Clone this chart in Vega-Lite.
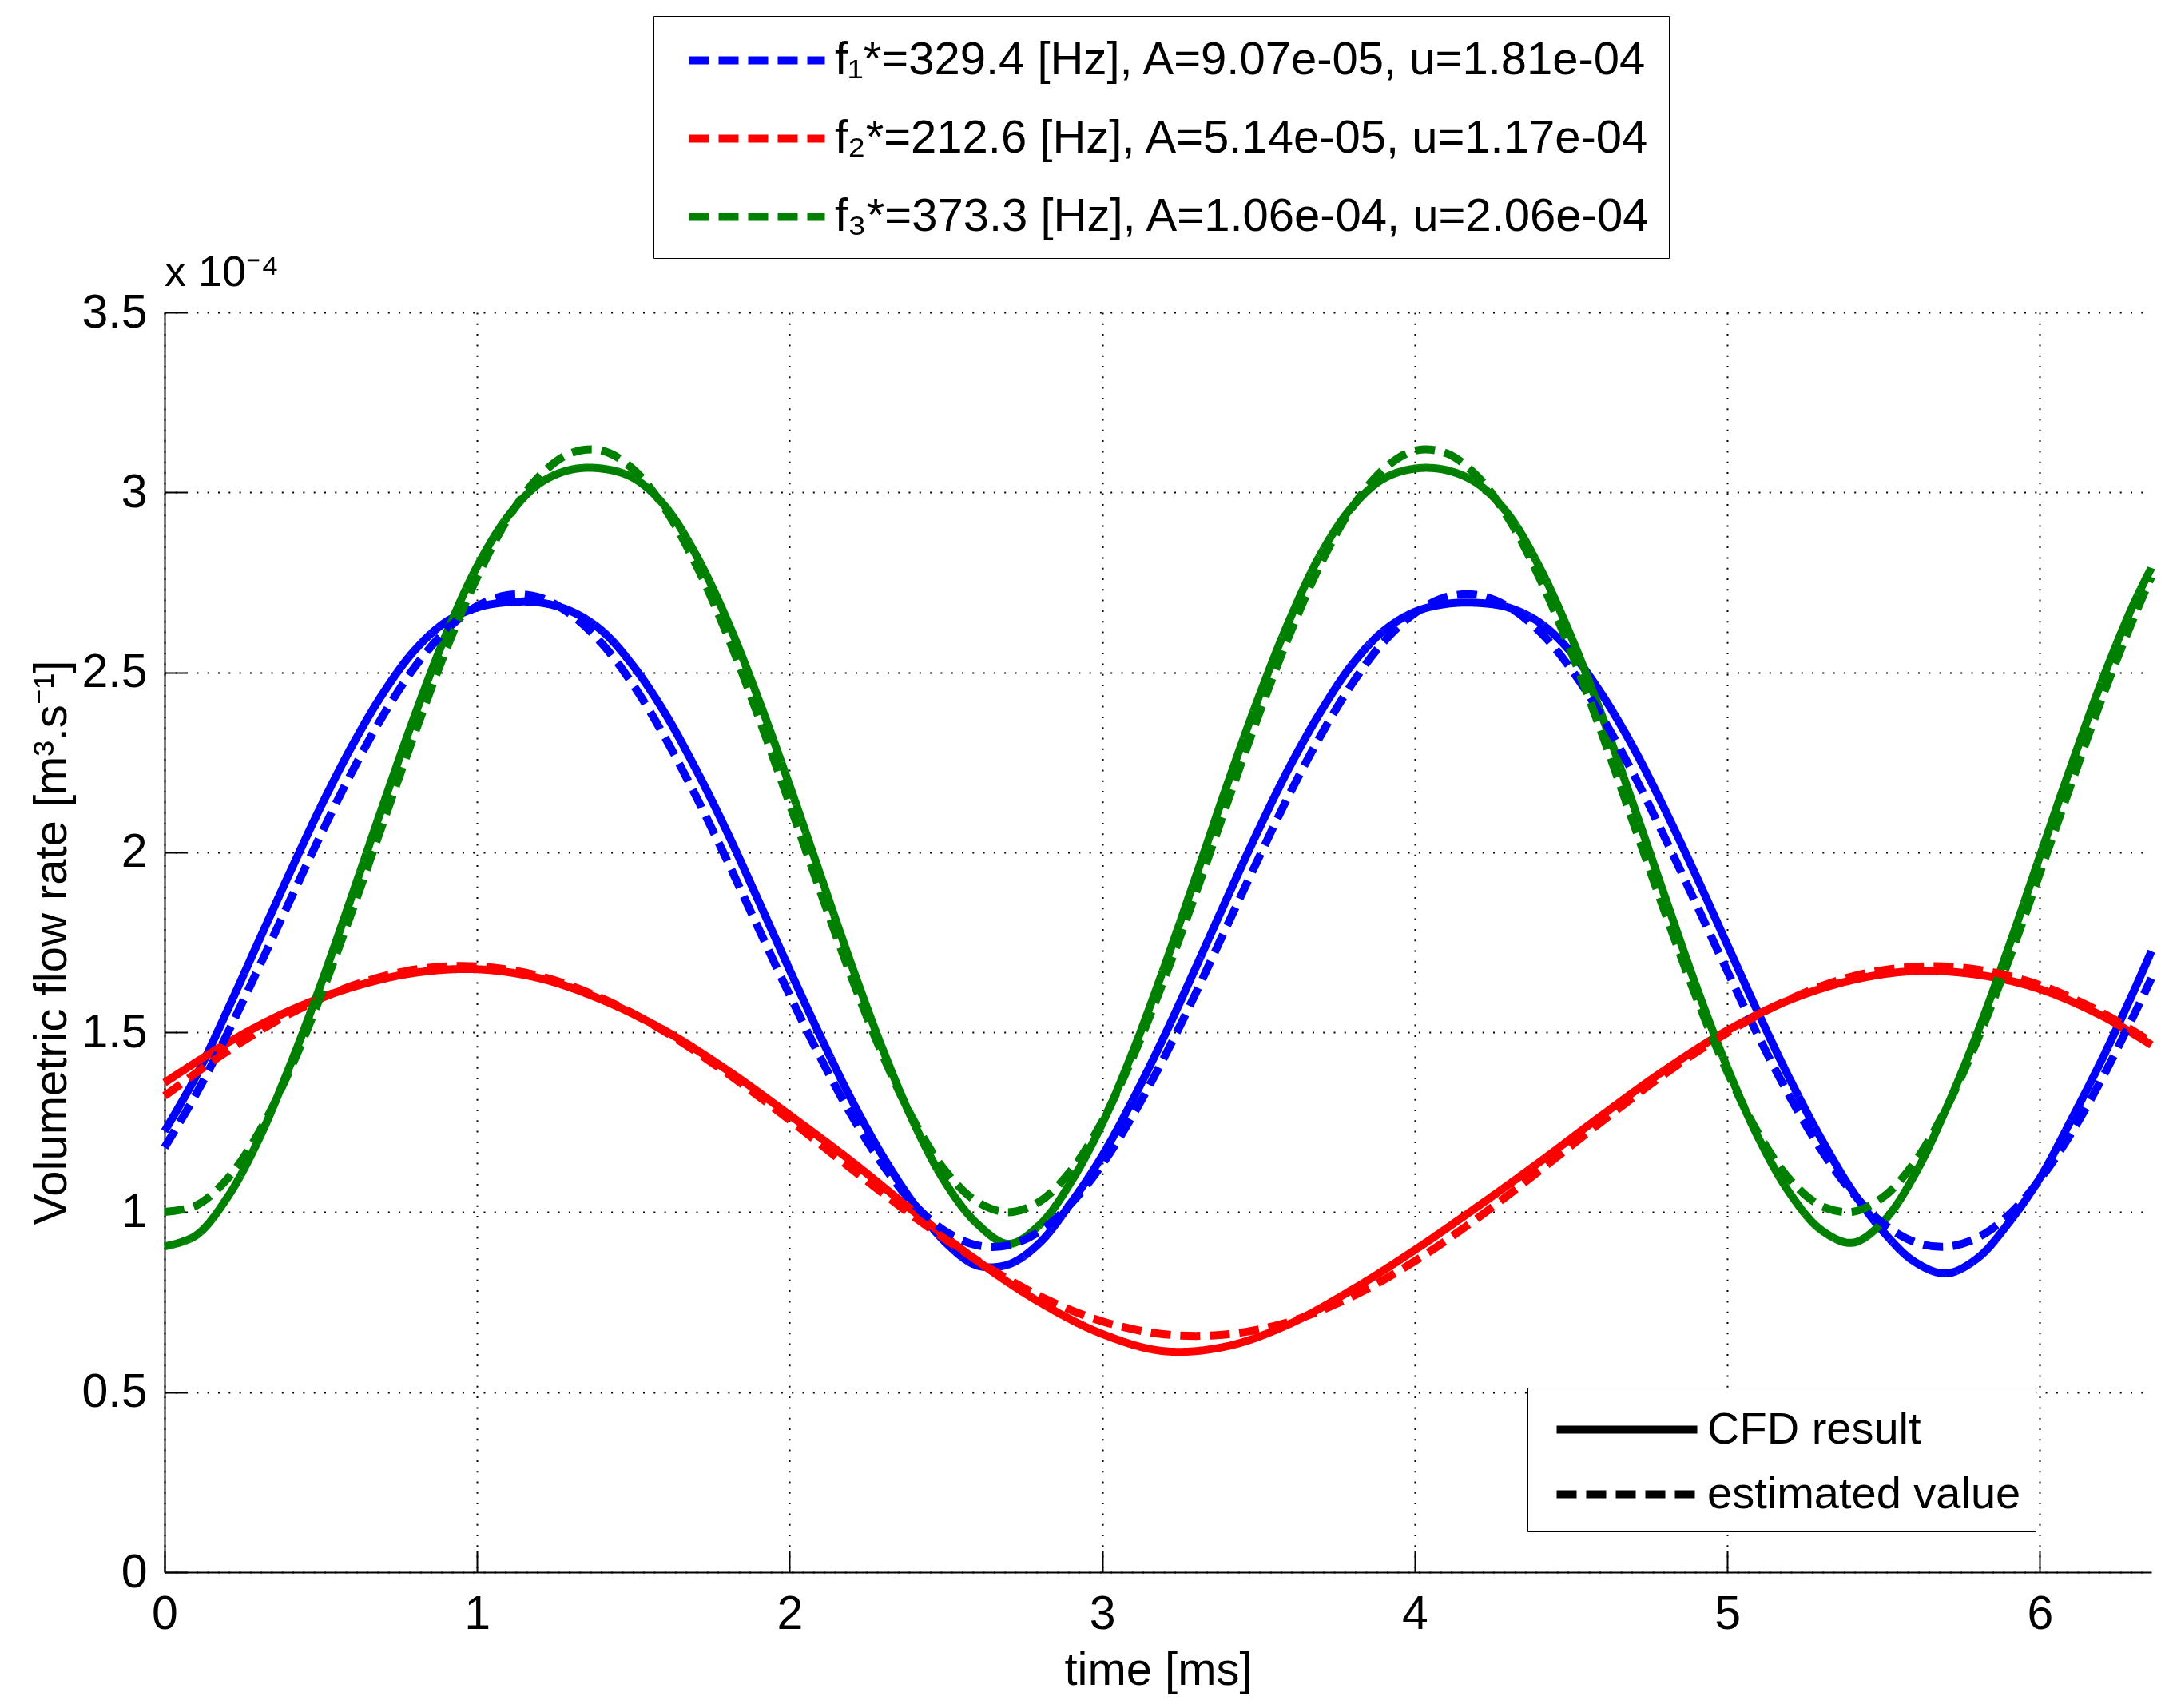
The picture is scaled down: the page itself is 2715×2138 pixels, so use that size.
{
  "$schema": "https://vega.github.io/schema/vega-lite/v6.json",
  "width": 2487,
  "height": 1577,
  "autosize": {"type": "none"},
  "padding": {"left": 206, "top": 391, "right": 22, "bottom": 170},
  "background": "white",
  "title": {
    "text": "x 10⁻⁴",
    "anchor": "start",
    "frame": "group",
    "orient": "top",
    "offset": -392,
    "baseline": "alphabetic",
    "font": "Liberation Sans",
    "fontSize": 54,
    "fontWeight": "normal",
    "color": "black"
  },
  "config": {
    "view": {"stroke": null},
    "axis": {
      "domainColor": "black",
      "domainWidth": 2,
      "tickColor": "black",
      "tickWidth": 2,
      "tickSize": -27,
      "labelFlush": false,
      "labelFont": "Liberation Sans",
      "labelFontSize": 59,
      "labelColor": "black",
      "titleFont": "Liberation Sans",
      "titleFontSize": 58,
      "titleFontWeight": "normal",
      "titleColor": "black",
      "gridColor": "black",
      "gridDash": [2, 11.3],
      "gridWidth": 2,
      "gridOpacity": 1
    },
    "legend": {
      "labelFont": "Liberation Sans",
      "labelColor": "black",
      "labelLimit": 2000,
      "strokeColor": "black",
      "fillColor": "white"
    }
  },
  "data": {
    "values": [
      {"t": 0, "q": 1.180, "s": "f1", "k": "est"},
      {"t": 0.1, "q": 1.327, "s": "f1", "k": "est"},
      {"t": 0.2, "q": 1.495, "s": "f1", "k": "est"},
      {"t": 0.3, "q": 1.677, "s": "f1", "k": "est"},
      {"t": 0.4, "q": 1.864, "s": "f1", "k": "est"},
      {"t": 0.5, "q": 2.049, "s": "f1", "k": "est"},
      {"t": 0.6, "q": 2.224, "s": "f1", "k": "est"},
      {"t": 0.7, "q": 2.381, "s": "f1", "k": "est"},
      {"t": 0.8, "q": 2.514, "s": "f1", "k": "est"},
      {"t": 0.9, "q": 2.616, "s": "f1", "k": "est"},
      {"t": 1.0, "q": 2.684, "s": "f1", "k": "est"},
      {"t": 1.1, "q": 2.715, "s": "f1", "k": "est"},
      {"t": 1.2, "q": 2.708, "s": "f1", "k": "est"},
      {"t": 1.3, "q": 2.661, "s": "f1", "k": "est"},
      {"t": 1.4, "q": 2.579, "s": "f1", "k": "est"},
      {"t": 1.5, "q": 2.464, "s": "f1", "k": "est"},
      {"t": 1.6, "q": 2.321, "s": "f1", "k": "est"},
      {"t": 1.7, "q": 2.156, "s": "f1", "k": "est"},
      {"t": 1.8, "q": 1.977, "s": "f1", "k": "est"},
      {"t": 1.9, "q": 1.789, "s": "f1", "k": "est"},
      {"t": 2.0, "q": 1.603, "s": "f1", "k": "est"},
      {"t": 2.1, "q": 1.427, "s": "f1", "k": "est"},
      {"t": 2.2, "q": 1.266, "s": "f1", "k": "est"},
      {"t": 2.3, "q": 1.129, "s": "f1", "k": "est"},
      {"t": 2.4, "q": 1.020, "s": "f1", "k": "est"},
      {"t": 2.5, "q": 0.946, "s": "f1", "k": "est"},
      {"t": 2.6, "q": 0.908, "s": "f1", "k": "est"},
      {"t": 2.7, "q": 0.908, "s": "f1", "k": "est"},
      {"t": 2.8, "q": 0.947, "s": "f1", "k": "est"},
      {"t": 2.9, "q": 1.024, "s": "f1", "k": "est"},
      {"t": 3.0, "q": 1.133, "s": "f1", "k": "est"},
      {"t": 3.1, "q": 1.272, "s": "f1", "k": "est"},
      {"t": 3.2, "q": 1.433, "s": "f1", "k": "est"},
      {"t": 3.3, "q": 1.610, "s": "f1", "k": "est"},
      {"t": 3.4, "q": 1.797, "s": "f1", "k": "est"},
      {"t": 3.5, "q": 1.983, "s": "f1", "k": "est"},
      {"t": 3.6, "q": 2.163, "s": "f1", "k": "est"},
      {"t": 3.7, "q": 2.326, "s": "f1", "k": "est"},
      {"t": 3.8, "q": 2.469, "s": "f1", "k": "est"},
      {"t": 3.9, "q": 2.584, "s": "f1", "k": "est"},
      {"t": 4.0, "q": 2.664, "s": "f1", "k": "est"},
      {"t": 4.1, "q": 2.709, "s": "f1", "k": "est"},
      {"t": 4.2, "q": 2.715, "s": "f1", "k": "est"},
      {"t": 4.3, "q": 2.682, "s": "f1", "k": "est"},
      {"t": 4.4, "q": 2.613, "s": "f1", "k": "est"},
      {"t": 4.5, "q": 2.509, "s": "f1", "k": "est"},
      {"t": 4.6, "q": 2.375, "s": "f1", "k": "est"},
      {"t": 4.7, "q": 2.217, "s": "f1", "k": "est"},
      {"t": 4.8, "q": 2.041, "s": "f1", "k": "est"},
      {"t": 4.9, "q": 1.857, "s": "f1", "k": "est"},
      {"t": 5.0, "q": 1.670, "s": "f1", "k": "est"},
      {"t": 5.1, "q": 1.488, "s": "f1", "k": "est"},
      {"t": 5.2, "q": 1.321, "s": "f1", "k": "est"},
      {"t": 5.3, "q": 1.174, "s": "f1", "k": "est"},
      {"t": 5.4, "q": 1.055, "s": "f1", "k": "est"},
      {"t": 5.5, "q": 0.968, "s": "f1", "k": "est"},
      {"t": 5.6, "q": 0.917, "s": "f1", "k": "est"},
      {"t": 5.7, "q": 0.904, "s": "f1", "k": "est"},
      {"t": 5.8, "q": 0.929, "s": "f1", "k": "est"},
      {"t": 5.9, "q": 0.992, "s": "f1", "k": "est"},
      {"t": 6.0, "q": 1.091, "s": "f1", "k": "est"},
      {"t": 6.1, "q": 1.219, "s": "f1", "k": "est"},
      {"t": 6.2, "q": 1.373, "s": "f1", "k": "est"},
      {"t": 6.3, "q": 1.546, "s": "f1", "k": "est"},
      {"t": 6.357, "q": 1.650, "s": "f1", "k": "est"},

      {"t": 0, "q": 1.225, "s": "f1", "k": "cfd"},
      {"t": 0.1, "q": 1.377, "s": "f1", "k": "cfd"},
      {"t": 0.2, "q": 1.559, "s": "f1", "k": "cfd"},
      {"t": 0.3, "q": 1.751, "s": "f1", "k": "cfd"},
      {"t": 0.4, "q": 1.942, "s": "f1", "k": "cfd"},
      {"t": 0.5, "q": 2.127, "s": "f1", "k": "cfd"},
      {"t": 0.6, "q": 2.296, "s": "f1", "k": "cfd"},
      {"t": 0.7, "q": 2.443, "s": "f1", "k": "cfd"},
      {"t": 0.8, "q": 2.561, "s": "f1", "k": "cfd"},
      {"t": 0.9, "q": 2.640, "s": "f1", "k": "cfd"},
      {"t": 1.0, "q": 2.680, "s": "f1", "k": "cfd"},
      {"t": 1.1, "q": 2.695, "s": "f1", "k": "cfd"},
      {"t": 1.2, "q": 2.694, "s": "f1", "k": "cfd"},
      {"t": 1.3, "q": 2.670, "s": "f1", "k": "cfd"},
      {"t": 1.4, "q": 2.615, "s": "f1", "k": "cfd"},
      {"t": 1.5, "q": 2.517, "s": "f1", "k": "cfd"},
      {"t": 1.6, "q": 2.388, "s": "f1", "k": "cfd"},
      {"t": 1.7, "q": 2.231, "s": "f1", "k": "cfd"},
      {"t": 1.8, "q": 2.056, "s": "f1", "k": "cfd"},
      {"t": 1.9, "q": 1.866, "s": "f1", "k": "cfd"},
      {"t": 2.0, "q": 1.673, "s": "f1", "k": "cfd"},
      {"t": 2.1, "q": 1.486, "s": "f1", "k": "cfd"},
      {"t": 2.2, "q": 1.309, "s": "f1", "k": "cfd"},
      {"t": 2.3, "q": 1.153, "s": "f1", "k": "cfd"},
      {"t": 2.4, "q": 1.021, "s": "f1", "k": "cfd"},
      {"t": 2.5, "q": 0.915, "s": "f1", "k": "cfd"},
      {"t": 2.6, "q": 0.852, "s": "f1", "k": "cfd"},
      {"t": 2.7, "q": 0.855, "s": "f1", "k": "cfd"},
      {"t": 2.8, "q": 0.915, "s": "f1", "k": "cfd"},
      {"t": 2.9, "q": 1.026, "s": "f1", "k": "cfd"},
      {"t": 3.0, "q": 1.157, "s": "f1", "k": "cfd"},
      {"t": 3.1, "q": 1.316, "s": "f1", "k": "cfd"},
      {"t": 3.2, "q": 1.492, "s": "f1", "k": "cfd"},
      {"t": 3.3, "q": 1.681, "s": "f1", "k": "cfd"},
      {"t": 3.4, "q": 1.874, "s": "f1", "k": "cfd"},
      {"t": 3.5, "q": 2.062, "s": "f1", "k": "cfd"},
      {"t": 3.6, "q": 2.238, "s": "f1", "k": "cfd"},
      {"t": 3.7, "q": 2.392, "s": "f1", "k": "cfd"},
      {"t": 3.8, "q": 2.522, "s": "f1", "k": "cfd"},
      {"t": 3.9, "q": 2.615, "s": "f1", "k": "cfd"},
      {"t": 4.0, "q": 2.668, "s": "f1", "k": "cfd"},
      {"t": 4.1, "q": 2.690, "s": "f1", "k": "cfd"},
      {"t": 4.2, "q": 2.693, "s": "f1", "k": "cfd"},
      {"t": 4.3, "q": 2.680, "s": "f1", "k": "cfd"},
      {"t": 4.4, "q": 2.638, "s": "f1", "k": "cfd"},
      {"t": 4.5, "q": 2.556, "s": "f1", "k": "cfd"},
      {"t": 4.6, "q": 2.437, "s": "f1", "k": "cfd"},
      {"t": 4.7, "q": 2.290, "s": "f1", "k": "cfd"},
      {"t": 4.8, "q": 2.119, "s": "f1", "k": "cfd"},
      {"t": 4.9, "q": 1.935, "s": "f1", "k": "cfd"},
      {"t": 5.0, "q": 1.743, "s": "f1", "k": "cfd"},
      {"t": 5.1, "q": 1.552, "s": "f1", "k": "cfd"},
      {"t": 5.2, "q": 1.370, "s": "f1", "k": "cfd"},
      {"t": 5.3, "q": 1.205, "s": "f1", "k": "cfd"},
      {"t": 5.4, "q": 1.060, "s": "f1", "k": "cfd"},
      {"t": 5.5, "q": 0.945, "s": "f1", "k": "cfd"},
      {"t": 5.6, "q": 0.862, "s": "f1", "k": "cfd"},
      {"t": 5.7, "q": 0.830, "s": "f1", "k": "cfd"},
      {"t": 5.8, "q": 0.872, "s": "f1", "k": "cfd"},
      {"t": 5.9, "q": 0.970, "s": "f1", "k": "cfd"},
      {"t": 6.0, "q": 1.095, "s": "f1", "k": "cfd"},
      {"t": 6.1, "q": 1.256, "s": "f1", "k": "cfd"},
      {"t": 6.2, "q": 1.427, "s": "f1", "k": "cfd"},
      {"t": 6.3, "q": 1.613, "s": "f1", "k": "cfd"},
      {"t": 6.357, "q": 1.725, "s": "f1", "k": "cfd"},

      {"t": 0, "q": 1.323, "s": "f2", "k": "est"},
      {"t": 0.2, "q": 1.447, "s": "f2", "k": "est"},
      {"t": 0.4, "q": 1.551, "s": "f2", "k": "est"},
      {"t": 0.6, "q": 1.629, "s": "f2", "k": "est"},
      {"t": 0.8, "q": 1.674, "s": "f2", "k": "est"},
      {"t": 1.0, "q": 1.683, "s": "f2", "k": "est"},
      {"t": 1.2, "q": 1.656, "s": "f2", "k": "est"},
      {"t": 1.4, "q": 1.594, "s": "f2", "k": "est"},
      {"t": 1.6, "q": 1.502, "s": "f2", "k": "est"},
      {"t": 1.8, "q": 1.386, "s": "f2", "k": "est"},
      {"t": 2.0, "q": 1.256, "s": "f2", "k": "est"},
      {"t": 2.2, "q": 1.119, "s": "f2", "k": "est"},
      {"t": 2.4, "q": 0.986, "s": "f2", "k": "est"},
      {"t": 2.6, "q": 0.866, "s": "f2", "k": "est"},
      {"t": 2.8, "q": 0.767, "s": "f2", "k": "est"},
      {"t": 3.0, "q": 0.697, "s": "f2", "k": "est"},
      {"t": 3.2, "q": 0.661, "s": "f2", "k": "est"},
      {"t": 3.4, "q": 0.661, "s": "f2", "k": "est"},
      {"t": 3.6, "q": 0.696, "s": "f2", "k": "est"},
      {"t": 3.8, "q": 0.766, "s": "f2", "k": "est"},
      {"t": 4.0, "q": 0.864, "s": "f2", "k": "est"},
      {"t": 4.2, "q": 0.983, "s": "f2", "k": "est"},
      {"t": 4.4, "q": 1.116, "s": "f2", "k": "est"},
      {"t": 4.6, "q": 1.253, "s": "f2", "k": "est"},
      {"t": 4.8, "q": 1.384, "s": "f2", "k": "est"},
      {"t": 5.0, "q": 1.499, "s": "f2", "k": "est"},
      {"t": 5.2, "q": 1.592, "s": "f2", "k": "est"},
      {"t": 5.4, "q": 1.655, "s": "f2", "k": "est"},
      {"t": 5.6, "q": 1.682, "s": "f2", "k": "est"},
      {"t": 5.8, "q": 1.674, "s": "f2", "k": "est"},
      {"t": 6.0, "q": 1.631, "s": "f2", "k": "est"},
      {"t": 6.2, "q": 1.554, "s": "f2", "k": "est"},
      {"t": 6.357, "q": 1.472, "s": "f2", "k": "est"},

      {"t": 0, "q": 1.360, "s": "f2", "k": "cfd"},
      {"t": 0.2, "q": 1.470, "s": "f2", "k": "cfd"},
      {"t": 0.4, "q": 1.560, "s": "f2", "k": "cfd"},
      {"t": 0.6, "q": 1.625, "s": "f2", "k": "cfd"},
      {"t": 0.8, "q": 1.665, "s": "f2", "k": "cfd"},
      {"t": 1.0, "q": 1.675, "s": "f2", "k": "cfd"},
      {"t": 1.2, "q": 1.650, "s": "f2", "k": "cfd"},
      {"t": 1.4, "q": 1.590, "s": "f2", "k": "cfd"},
      {"t": 1.6, "q": 1.505, "s": "f2", "k": "cfd"},
      {"t": 1.8, "q": 1.395, "s": "f2", "k": "cfd"},
      {"t": 2.0, "q": 1.270, "s": "f2", "k": "cfd"},
      {"t": 2.2, "q": 1.140, "s": "f2", "k": "cfd"},
      {"t": 2.4, "q": 1.000, "s": "f2", "k": "cfd"},
      {"t": 2.6, "q": 0.865, "s": "f2", "k": "cfd"},
      {"t": 2.8, "q": 0.750, "s": "f2", "k": "cfd"},
      {"t": 3.0, "q": 0.662, "s": "f2", "k": "cfd"},
      {"t": 3.2, "q": 0.614, "s": "f2", "k": "cfd"},
      {"t": 3.4, "q": 0.628, "s": "f2", "k": "cfd"},
      {"t": 3.6, "q": 0.690, "s": "f2", "k": "cfd"},
      {"t": 3.8, "q": 0.785, "s": "f2", "k": "cfd"},
      {"t": 4.0, "q": 0.895, "s": "f2", "k": "cfd"},
      {"t": 4.2, "q": 1.015, "s": "f2", "k": "cfd"},
      {"t": 4.4, "q": 1.140, "s": "f2", "k": "cfd"},
      {"t": 4.6, "q": 1.270, "s": "f2", "k": "cfd"},
      {"t": 4.8, "q": 1.395, "s": "f2", "k": "cfd"},
      {"t": 5.0, "q": 1.505, "s": "f2", "k": "cfd"},
      {"t": 5.2, "q": 1.590, "s": "f2", "k": "cfd"},
      {"t": 5.4, "q": 1.645, "s": "f2", "k": "cfd"},
      {"t": 5.6, "q": 1.670, "s": "f2", "k": "cfd"},
      {"t": 5.8, "q": 1.660, "s": "f2", "k": "cfd"},
      {"t": 6.0, "q": 1.620, "s": "f2", "k": "cfd"},
      {"t": 6.2, "q": 1.545, "s": "f2", "k": "cfd"},
      {"t": 6.357, "q": 1.465, "s": "f2", "k": "cfd"},

      {"t": 0, "q": 1.001, "s": "f3", "k": "est"},
      {"t": 0.1, "q": 1.018, "s": "f3", "k": "est"},
      {"t": 0.2, "q": 1.092, "s": "f3", "k": "est"},
      {"t": 0.3, "q": 1.219, "s": "f3", "k": "est"},
      {"t": 0.4, "q": 1.393, "s": "f3", "k": "est"},
      {"t": 0.5, "q": 1.602, "s": "f3", "k": "est"},
      {"t": 0.6, "q": 1.837, "s": "f3", "k": "est"},
      {"t": 0.7, "q": 2.084, "s": "f3", "k": "est"},
      {"t": 0.8, "q": 2.329, "s": "f3", "k": "est"},
      {"t": 0.9, "q": 2.561, "s": "f3", "k": "est"},
      {"t": 1.0, "q": 2.764, "s": "f3", "k": "est"},
      {"t": 1.1, "q": 2.929, "s": "f3", "k": "est"},
      {"t": 1.2, "q": 3.046, "s": "f3", "k": "est"},
      {"t": 1.3, "q": 3.109, "s": "f3", "k": "est"},
      {"t": 1.4, "q": 3.116, "s": "f3", "k": "est"},
      {"t": 1.5, "q": 3.064, "s": "f3", "k": "est"},
      {"t": 1.6, "q": 2.956, "s": "f3", "k": "est"},
      {"t": 1.7, "q": 2.800, "s": "f3", "k": "est"},
      {"t": 1.8, "q": 2.604, "s": "f3", "k": "est"},
      {"t": 1.9, "q": 2.377, "s": "f3", "k": "est"},
      {"t": 2.0, "q": 2.134, "s": "f3", "k": "est"},
      {"t": 2.1, "q": 1.887, "s": "f3", "k": "est"},
      {"t": 2.2, "q": 1.648, "s": "f3", "k": "est"},
      {"t": 2.3, "q": 1.432, "s": "f3", "k": "est"},
      {"t": 2.4, "q": 1.250, "s": "f3", "k": "est"},
      {"t": 2.5, "q": 1.113, "s": "f3", "k": "est"},
      {"t": 2.6, "q": 1.029, "s": "f3", "k": "est"},
      {"t": 2.7, "q": 1.000, "s": "f3", "k": "est"},
      {"t": 2.8, "q": 1.030, "s": "f3", "k": "est"},
      {"t": 2.9, "q": 1.116, "s": "f3", "k": "est"},
      {"t": 3.0, "q": 1.252, "s": "f3", "k": "est"},
      {"t": 3.1, "q": 1.435, "s": "f3", "k": "est"},
      {"t": 3.2, "q": 1.651, "s": "f3", "k": "est"},
      {"t": 3.3, "q": 1.888, "s": "f3", "k": "est"},
      {"t": 3.4, "q": 2.137, "s": "f3", "k": "est"},
      {"t": 3.5, "q": 2.380, "s": "f3", "k": "est"},
      {"t": 3.6, "q": 2.606, "s": "f3", "k": "est"},
      {"t": 3.7, "q": 2.803, "s": "f3", "k": "est"},
      {"t": 3.8, "q": 2.958, "s": "f3", "k": "est"},
      {"t": 3.9, "q": 3.064, "s": "f3", "k": "est"},
      {"t": 4.0, "q": 3.116, "s": "f3", "k": "est"},
      {"t": 4.1, "q": 3.109, "s": "f3", "k": "est"},
      {"t": 4.2, "q": 3.045, "s": "f3", "k": "est"},
      {"t": 4.3, "q": 2.927, "s": "f3", "k": "est"},
      {"t": 4.4, "q": 2.761, "s": "f3", "k": "est"},
      {"t": 4.5, "q": 2.557, "s": "f3", "k": "est"},
      {"t": 4.6, "q": 2.327, "s": "f3", "k": "est"},
      {"t": 4.7, "q": 2.080, "s": "f3", "k": "est"},
      {"t": 4.8, "q": 1.834, "s": "f3", "k": "est"},
      {"t": 4.9, "q": 1.599, "s": "f3", "k": "est"},
      {"t": 5.0, "q": 1.390, "s": "f3", "k": "est"},
      {"t": 5.1, "q": 1.218, "s": "f3", "k": "est"},
      {"t": 5.2, "q": 1.091, "s": "f3", "k": "est"},
      {"t": 5.3, "q": 1.018, "s": "f3", "k": "est"},
      {"t": 5.4, "q": 1.001, "s": "f3", "k": "est"},
      {"t": 5.5, "q": 1.043, "s": "f3", "k": "est"},
      {"t": 5.6, "q": 1.140, "s": "f3", "k": "est"},
      {"t": 5.7, "q": 1.288, "s": "f3", "k": "est"},
      {"t": 5.8, "q": 1.478, "s": "f3", "k": "est"},
      {"t": 5.9, "q": 1.699, "s": "f3", "k": "est"},
      {"t": 6.0, "q": 1.942, "s": "f3", "k": "est"},
      {"t": 6.1, "q": 2.189, "s": "f3", "k": "est"},
      {"t": 6.2, "q": 2.431, "s": "f3", "k": "est"},
      {"t": 6.3, "q": 2.651, "s": "f3", "k": "est"},
      {"t": 6.357, "q": 2.765, "s": "f3", "k": "est"},

      {"t": 0, "q": 0.905, "s": "f3", "k": "cfd"},
      {"t": 0.1, "q": 0.935, "s": "f3", "k": "cfd"},
      {"t": 0.2, "q": 1.040, "s": "f3", "k": "cfd"},
      {"t": 0.3, "q": 1.200, "s": "f3", "k": "cfd"},
      {"t": 0.4, "q": 1.405, "s": "f3", "k": "cfd"},
      {"t": 0.5, "q": 1.633, "s": "f3", "k": "cfd"},
      {"t": 0.6, "q": 1.881, "s": "f3", "k": "cfd"},
      {"t": 0.7, "q": 2.134, "s": "f3", "k": "cfd"},
      {"t": 0.8, "q": 2.379, "s": "f3", "k": "cfd"},
      {"t": 0.9, "q": 2.604, "s": "f3", "k": "cfd"},
      {"t": 1.0, "q": 2.794, "s": "f3", "k": "cfd"},
      {"t": 1.1, "q": 2.935, "s": "f3", "k": "cfd"},
      {"t": 1.2, "q": 3.025, "s": "f3", "k": "cfd"},
      {"t": 1.3, "q": 3.063, "s": "f3", "k": "cfd"},
      {"t": 1.4, "q": 3.066, "s": "f3", "k": "cfd"},
      {"t": 1.5, "q": 3.040, "s": "f3", "k": "cfd"},
      {"t": 1.6, "q": 2.963, "s": "f3", "k": "cfd"},
      {"t": 1.7, "q": 2.827, "s": "f3", "k": "cfd"},
      {"t": 1.8, "q": 2.645, "s": "f3", "k": "cfd"},
      {"t": 1.9, "q": 2.426, "s": "f3", "k": "cfd"},
      {"t": 2.0, "q": 2.185, "s": "f3", "k": "cfd"},
      {"t": 2.1, "q": 1.933, "s": "f3", "k": "cfd"},
      {"t": 2.2, "q": 1.682, "s": "f3", "k": "cfd"},
      {"t": 2.3, "q": 1.448, "s": "f3", "k": "cfd"},
      {"t": 2.4, "q": 1.243, "s": "f3", "k": "cfd"},
      {"t": 2.5, "q": 1.080, "s": "f3", "k": "cfd"},
      {"t": 2.6, "q": 0.968, "s": "f3", "k": "cfd"},
      {"t": 2.7, "q": 0.912, "s": "f3", "k": "cfd"},
      {"t": 2.8, "q": 0.965, "s": "f3", "k": "cfd"},
      {"t": 2.9, "q": 1.084, "s": "f3", "k": "cfd"},
      {"t": 3.0, "q": 1.246, "s": "f3", "k": "cfd"},
      {"t": 3.1, "q": 1.451, "s": "f3", "k": "cfd"},
      {"t": 3.2, "q": 1.685, "s": "f3", "k": "cfd"},
      {"t": 3.3, "q": 1.934, "s": "f3", "k": "cfd"},
      {"t": 3.4, "q": 2.188, "s": "f3", "k": "cfd"},
      {"t": 3.5, "q": 2.429, "s": "f3", "k": "cfd"},
      {"t": 3.6, "q": 2.647, "s": "f3", "k": "cfd"},
      {"t": 3.7, "q": 2.830, "s": "f3", "k": "cfd"},
      {"t": 3.8, "q": 2.960, "s": "f3", "k": "cfd"},
      {"t": 3.9, "q": 3.038, "s": "f3", "k": "cfd"},
      {"t": 4.0, "q": 3.066, "s": "f3", "k": "cfd"},
      {"t": 4.1, "q": 3.062, "s": "f3", "k": "cfd"},
      {"t": 4.2, "q": 3.025, "s": "f3", "k": "cfd"},
      {"t": 4.3, "q": 2.938, "s": "f3", "k": "cfd"},
      {"t": 4.4, "q": 2.791, "s": "f3", "k": "cfd"},
      {"t": 4.5, "q": 2.600, "s": "f3", "k": "cfd"},
      {"t": 4.6, "q": 2.377, "s": "f3", "k": "cfd"},
      {"t": 4.7, "q": 2.130, "s": "f3", "k": "cfd"},
      {"t": 4.8, "q": 1.878, "s": "f3", "k": "cfd"},
      {"t": 4.9, "q": 1.629, "s": "f3", "k": "cfd"},
      {"t": 5.0, "q": 1.402, "s": "f3", "k": "cfd"},
      {"t": 5.1, "q": 1.206, "s": "f3", "k": "cfd"},
      {"t": 5.2, "q": 1.053, "s": "f3", "k": "cfd"},
      {"t": 5.3, "q": 0.951, "s": "f3", "k": "cfd"},
      {"t": 5.4, "q": 0.915, "s": "f3", "k": "cfd"},
      {"t": 5.5, "q": 0.975, "s": "f3", "k": "cfd"},
      {"t": 5.6, "q": 1.105, "s": "f3", "k": "cfd"},
      {"t": 5.7, "q": 1.287, "s": "f3", "k": "cfd"},
      {"t": 5.8, "q": 1.498, "s": "f3", "k": "cfd"},
      {"t": 5.9, "q": 1.736, "s": "f3", "k": "cfd"},
      {"t": 6.0, "q": 1.989, "s": "f3", "k": "cfd"},
      {"t": 6.1, "q": 2.240, "s": "f3", "k": "cfd"},
      {"t": 6.2, "q": 2.479, "s": "f3", "k": "cfd"},
      {"t": 6.3, "q": 2.690, "s": "f3", "k": "cfd"},
      {"t": 6.357, "q": 2.790, "s": "f3", "k": "cfd"}
    ]
  },
  "encoding": {
    "x": {
      "field": "t",
      "type": "quantitative",
      "scale": {"domain": [0, 6.357], "nice": false, "zero": false},
      "axis": {
        "title": "time [ms]",
        "values": [0, 1, 2, 3, 4, 5, 6],
        "format": "d",
        "labelPadding": 50,
        "titleY": 140,
        "titleBaseline": "alphabetic"
      }
    },
    "y": {
      "field": "q",
      "type": "quantitative",
      "scale": {"domain": [0, 3.5], "nice": false},
      "axis": {
        "title": "Volumetric flow rate [m³.s⁻¹]",
        "values": [0, 0.5, 1, 1.5, 2, 2.5, 3, 3.5],
        "format": "~g",
        "labelPadding": 49,
        "titleX": -124,
        "titleBaseline": "alphabetic",
        "titleAngle": -90
      }
    },
    "color": {
      "field": "s",
      "type": "nominal",
      "scale": {"domain": ["f1", "f2", "f3"], "range": ["#0000FF", "#FF0000", "#008000"]},
      "legend": {
        "title": null,
        "orient": "none",
        "legendX": 612,
        "legendY": -371,
        "direction": "vertical",
        "symbolType": "M-3,0H3",
        "symbolSize": 3211,
        "symbolStrokeWidth": 10,
        "symbolDash": [25, 12],
        "symbolOffset": 74,
        "labelOffset": 64,
        "padding": 22,
        "rowPadding": 35,
        "labelFontSize": 58,
        "labelExpr": "datum.value == 'f1' ? 'f₁*=329.4 [Hz], A=9.07e-05, u=1.81e-04' : datum.value == 'f2' ? 'f₂*=212.6 [Hz], A=5.14e-05, u=1.17e-04' : 'f₃*=373.3 [Hz], A=1.06e-04, u=2.06e-04'"
      }
    },
    "strokeDash": {
      "field": "k",
      "type": "nominal",
      "scale": {"domain": ["cfd", "est"], "range": [[1, 0], [25, 12]]},
      "legend": {
        "title": null,
        "orient": "none",
        "legendX": 1706,
        "legendY": 1346,
        "direction": "vertical",
        "symbolType": "M-3,0H3",
        "symbolSize": 3442,
        "symbolStrokeWidth": 10,
        "symbolStrokeColor": "black",
        "symbolOffset": 72,
        "labelOffset": 66,
        "padding": 18,
        "rowPadding": 18,
        "labelFontSize": 56,
        "labelExpr": "datum.value == 'cfd' ? 'CFD result' : 'estimated value'"
      }
    }
  },
  "layer": [
    {
      "transform": [{"filter": "datum.k == 'cfd'"}],
      "mark": {"type": "line", "strokeWidth": 10, "interpolate": "catmull-rom", "strokeCap": "butt", "strokeJoin": "round"}
    },
    {
      "transform": [{"filter": "datum.k == 'est'"}],
      "mark": {"type": "line", "strokeWidth": 10, "interpolate": "catmull-rom", "strokeCap": "butt", "strokeJoin": "round"}
    }
  ]
}
